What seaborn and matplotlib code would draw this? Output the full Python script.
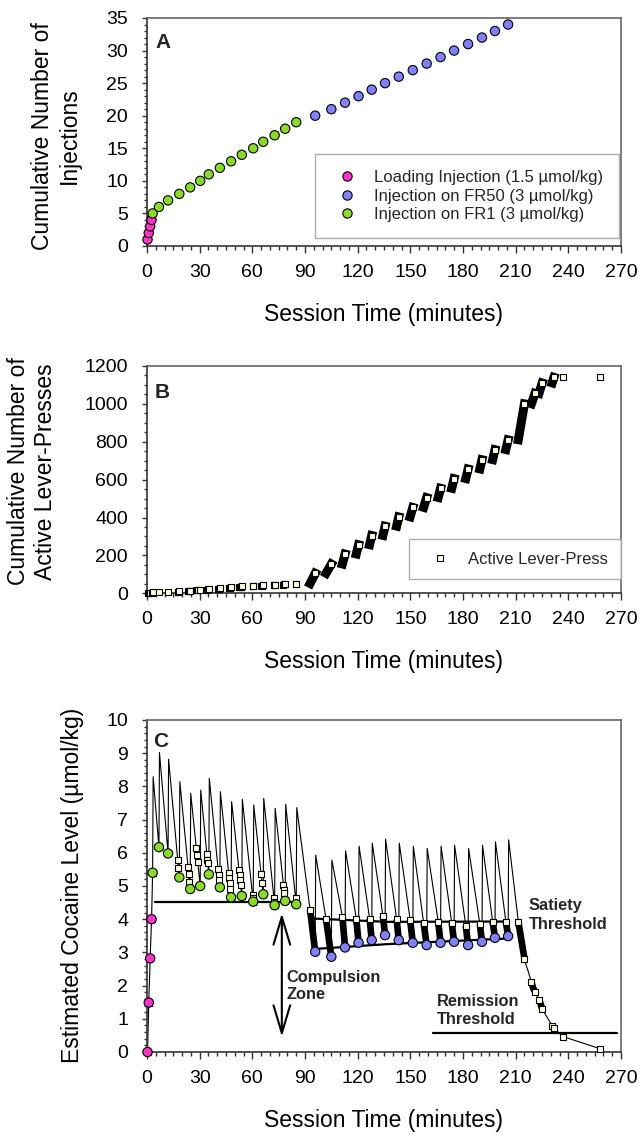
import numpy as np
import pandas as pd
import matplotlib
matplotlib.use("Agg")
import matplotlib.pyplot as plt
from matplotlib.lines import Line2D
from matplotlib.ticker import MultipleLocator
import seaborn as sns

# ---------------- data ----------------
# injection times (min)
loading_times = [0.3, 1.0, 1.8, 2.6]
fr1_times = [3.2, 6.8, 12.0, 18.4, 24.6, 30.3, 35.2, 41.5, 47.9, 54.0, 60.5, 66.2, 72.7, 78.7, 85.0]
fr50_times = [95.8, 105.0, 112.8, 120.5, 128.0, 135.6, 143.4, 151.4, 159.3, 167.2, 174.9, 182.9,
              190.8, 198.2, 205.7]
# cumulative injections (panel A)
loading_counts = [1, 2, 3, 4]
fr1_counts = [5, 6, 7, 8, 9, 10, 11, 12, 13, 14, 15, 16, 17, 18, 19]
fr50_counts = [20, 21, 22, 23, 24, 25, 26, 27, 28, 29, 30, 31, 32, 33, 34]

# estimated cocaine level at each injection (trough) and just after it (peak) (panel C)
loading_levels = [0.00, 1.49, 2.82, 4.00]
fr1_troughs = [5.40, 6.17, 5.98, 5.26, 4.91, 5.00, 5.35, 4.96, 4.66, 4.70, 4.53, 4.75, 4.42, 4.55, 4.45]
fr1_peaks = [8.29, 9.02, 8.82, 8.14, 7.79, 7.89, 8.24, 7.84, 7.54, 7.61, 7.44, 7.64, 7.34, 7.46, 7.36]
fr50_troughs = [3.02, 2.87, 3.15, 3.29, 3.37, 3.52, 3.37, 3.29, 3.22, 3.29, 3.32, 3.22, 3.32, 3.44, 3.49]
fr50_peaks = [5.93, 5.78, 6.06, 6.20, 6.29, 6.41, 6.29, 6.20, 6.13, 6.20, 6.23, 6.13, 6.23, 6.33, 6.39]
peak_delay = 0.3
# FR50 lever-press bursts: start time, level at start, cumulative presses at the end
fr50_burst_start = [92.9, 102.0, 111.3, 119.2, 126.8, 134.4, 142.2, 149.9, 157.6, 165.9, 173.6, 181.6,
                    189.6, 196.9, 204.4]
fr50_burst_start_level = [4.28, 4.00, 4.08, 4.02, 4.02, 4.10, 4.00, 3.98, 3.88, 3.92, 3.88, 3.80,
                          3.85, 3.92, 3.93]
fr50_press_counts = [105, 154, 207, 256, 305, 354, 403, 453, 505, 554, 605, 656, 705, 758, 810]
# decay of the cocaine level after the last injection
post_decay_times = [211.5, 215.3, 217.2, 220.0, 223.8, 225.1, 231.4, 236.7, 258.0]
post_decay_levels = [3.93, 2.72, 2.42, 1.92, 1.52, 1.29, 0.74, 0.47, 0.10]
# presses after the last injection
post_burst_start = [211.5, 219.0, 223.3, 230.8]
post_burst_end = [215.0, 221.0, 225.1, 231.8]
post_burst_counts = [1000, 1055, 1110, 1140]
post_single_times = [237.0, 258.0]
post_single_counts = [1142, 1144]
# individual presses during loading / FR1 (one cumulative count each)
fr1_press_times = [0.3, 1.0, 1.8, 2.6, 3.2, 6.8, 12.0, 17.5, 17.9, 18.4, 23.4, 23.8, 24.2, 24.6,
                   28.1, 28.5, 28.9, 30.3, 34.1, 34.4, 34.6, 35.2, 40.5, 40.8, 41.1, 41.5,
                   46.5, 46.8, 47.1, 47.4, 47.9, 52.4, 52.7, 53.0, 53.3, 54.0, 60.1, 60.3, 60.5,
                   65.0, 65.5, 66.2, 72.3, 72.5, 72.7, 77.7, 78.0, 78.2, 78.7, 84.6, 85.0]

# reference lines of panel C
fr1_threshold_t = [4.6, 86.2]
fr1_threshold_y = [4.53, 4.53]
satiety_t = [94.5, 137.0, 206.0]
satiety_y = [4.02, 3.92, 3.93]
lower_t = [94.5, 137.0, 206.0]
lower_y = [3.10, 3.25, 3.42]
remission_t = [162.8, 268.0]
remission_y = [0.58, 0.58]

labels_inj = ["Loading Injection (1.5 \u00b5mol/kg)", "Injection on FR50 (3 \u00b5mol/kg)",
              "Injection on FR1 (3 \u00b5mol/kg)"]
colors_inj = ["#FF33CC", "#8080FF", "#88DD22"]
square_face = "#FFFFE0"

# ---------------- style ----------------
sns.set_theme(style="ticks")
plt.rcParams["font.family"] = ["Liberation Sans", "DejaVu Sans"]
plt.rcParams.update({
    "axes.edgecolor": "#333333", "axes.linewidth": 1.2,
    "xtick.color": "#333333", "ytick.color": "#333333",
    "xtick.labelcolor": "black", "ytick.labelcolor": "black",
    "xtick.major.size": 4.8, "xtick.minor.size": 3.1,
    "ytick.major.size": 3.6, "ytick.minor.size": 2.4,
    "xtick.major.width": 1.0, "xtick.minor.width": 1.0,
    "ytick.major.width": 1.0, "ytick.minor.width": 1.0,
    "xtick.major.pad": 8, "ytick.major.pad": 10,
    "xtick.labelsize": 14, "ytick.labelsize": 14,
    "axes.labelsize": 16.5, "axes.labelcolor": "black",
})

W, H = 642, 1137
fig = plt.figure(figsize=(W / 100, H / 100), dpi=100)


def add_ax(left, top, right, bottom):
    return fig.add_axes([left / W, 1 - bottom / H, (right - left) / W, (bottom - top) / H])


axA = add_ax(147, 18, 621, 246)
axB = add_ax(147, 366, 621, 593.3)
axC = add_ax(147, 720, 621, 1052)

for ax in (axA, axB, axC):
    ax.set_xlim(0, 270)
    ax.set_xticks(np.arange(0, 271, 30))
    ax.xaxis.set_minor_locator(MultipleLocator(5))
    ax.set_xlabel("Session Time (minutes)", labelpad=16)
    for side in ("top", "right"):
        ax.spines[side].set_color("#666666")

# ---------------- panel A ----------------
dfA = pd.DataFrame({
    "time": loading_times + fr50_times + fr1_times,
    "count": loading_counts + fr50_counts + fr1_counts,
    "kind": [labels_inj[0]] * 4 + [labels_inj[1]] * len(fr50_times) + [labels_inj[2]] * len(fr1_times),
})
dfA = dfA.sort_values("time")
sns.scatterplot(data=dfA, x="time", y="count", hue="kind", hue_order=labels_inj, palette=colors_inj,
                s=45, edgecolor="black", linewidth=0.8, legend=False, ax=axA, zorder=3, clip_on=False)
axA.set_ylim(0, 35)
axA.set_yticks(np.arange(0, 36, 5))
axA.yaxis.set_minor_locator(MultipleLocator(1))
axA.set_ylabel("Cumulative Number of\nInjections")
axA.yaxis.set_label_coords(-0.1395, 0.483)
hA = [Line2D([], [], ls="", marker="o", ms=6.7, mfc=c, mec="black", mew=0.8) for c in colors_inj]
legA = axA.legend(hA, labels_inj, loc="upper left", bbox_to_anchor=(0.354, 0.4035), fontsize=12,
                  frameon=True, fancybox=False, edgecolor="#999999", borderpad=0.95, borderaxespad=0,
                  labelspacing=0.22, handlelength=2.0, handletextpad=0.6)
legA.get_frame().set_linewidth(1.0)
axA.text(0.017, 0.868, "A", transform=axA.transAxes, fontsize=15, fontweight="bold", va="baseline")

# ---------------- panel B ----------------
n_fr1 = len(fr1_press_times)
rows = []
prev = n_fr1
for i, (t0, t1, c) in enumerate(zip(fr50_burst_start, fr50_times, fr50_press_counts)):
    rows += [(i, t0, prev + 1), (i, t1, c)]
    prev = c
for j, (t0, t1, c) in enumerate(zip(post_burst_start, post_burst_end, post_burst_counts)):
    rows += [(100 + j, t0, prev + 1), (100 + j, t1, c)]
    prev = c
dfB_burst = pd.DataFrame(rows, columns=["burst", "time", "count"])
sns.lineplot(data=dfB_burst, x="time", y="count", units="burst", estimator=None, sort=False,
             color="black", lw=6.5, solid_capstyle="projecting", ax=axB, zorder=2)
dfB_sq = pd.DataFrame({
    "time": fr1_press_times + fr50_times + post_burst_end + post_single_times,
    "count": list(range(1, n_fr1 + 1)) + fr50_press_counts + post_burst_counts + post_single_counts,
})
sns.scatterplot(data=dfB_sq, x="time", y="count", marker="s", s=24, color=square_face,
                edgecolor="black", linewidth=0.8, ax=axB, zorder=3, clip_on=False)
axB.set_ylim(0, 1200)
axB.set_yticks(np.arange(0, 1201, 200))
axB.yaxis.set_minor_locator(MultipleLocator(50))
axB.set_ylabel("Cumulative Number of\nActive Lever-Presses")
axB.yaxis.set_label_coords(-0.19, 0.536)
hB = [Line2D([], [], ls="", marker="s", ms=5.0, mfc=square_face, mec="black", mew=0.8)]
legB = axB.legend(hB, ["Active Lever-Press"], loc="upper left", bbox_to_anchor=(0.553, 0.237),
                  fontsize=12, frameon=True, fancybox=False, edgecolor="#999999", borderpad=0.75,
                  borderaxespad=0, handlelength=2.24, handletextpad=0.57)
legB.get_frame().set_linewidth(1.0)
axB.text(0.017, 0.861, "B", transform=axB.transAxes, fontsize=15, fontweight="bold", va="baseline")

# ---------------- panel C ----------------
curve_t = list(loading_times)
curve_y = list(loading_levels)
for t, tr, pk in zip(fr1_times, fr1_troughs, fr1_peaks):
    curve_t += [t, t + peak_delay]
    curve_y += [tr, pk]
for bs, bl, t, tr, pk in zip(fr50_burst_start, fr50_burst_start_level, fr50_times, fr50_troughs, fr50_peaks):
    curve_t += [bs, t, t + peak_delay]
    curve_y += [bl, tr, pk]
curve_t += post_decay_times
curve_y += post_decay_levels
curve_t = np.array(curve_t)
curve_y = np.array(curve_y)


def level_at(times):
    return np.interp(times, curve_t, curve_y)


# reference lines
for lt, ly in ((fr1_threshold_t, fr1_threshold_y), (satiety_t, satiety_y), (lower_t, lower_y),
               (remission_t, remission_y)):
    sns.lineplot(x=lt, y=ly, estimator=None, sort=False, color="black", lw=1.6, ax=axC, zorder=1)

sns.lineplot(x=curve_t, y=curve_y, estimator=None, sort=False, color="black", lw=0.8, ax=axC, zorder=2)

seg_rows = []
for k, (t0, t1) in enumerate(list(zip(fr50_burst_start, fr50_times)) + list(zip(post_burst_start, post_burst_end))):
    ts = [t0] + [v for v in curve_t if t0 < v < t1] + [t1]
    for tt in ts:
        seg_rows.append((k, tt, float(level_at(tt))))
dfC_seg = pd.DataFrame(seg_rows, columns=["burst", "time", "level"])
sns.lineplot(data=dfC_seg, x="time", y="level", units="burst", estimator=None, sort=False,
             color="black", lw=4.8, solid_capstyle="butt", ax=axC, zorder=3)

sq_times = fr1_press_times + fr50_burst_start + post_burst_start + post_burst_end + post_single_times
dfC_sq = pd.DataFrame({"time": sq_times, "level": level_at(sq_times)})
sns.scatterplot(data=dfC_sq, x="time", y="level", marker="s", s=22, color=square_face,
                edgecolor="black", linewidth=0.8, ax=axC, zorder=4, clip_on=False)

dfC_inj = pd.DataFrame({
    "time": loading_times + fr1_times + fr50_times,
    "level": loading_levels + fr1_troughs + fr50_troughs,
    "kind": [labels_inj[0]] * 4 + [labels_inj[2]] * len(fr1_times) + [labels_inj[1]] * len(fr50_times),
})
sns.scatterplot(data=dfC_inj, x="time", y="level", hue="kind", hue_order=labels_inj, palette=colors_inj,
                s=45, edgecolor="black", linewidth=0.8, legend=False, ax=axC, zorder=5, clip_on=False)

axC.set_ylim(0, 10)
axC.set_yticks(np.arange(0, 11, 1))
axC.yaxis.set_minor_locator(MultipleLocator(0.2))
axC.set_ylabel("Estimated Cocaine Level (\u00b5mol/kg)")
axC.yaxis.set_label_coords(-0.133, 0.503)
axC.text(0.013, 0.919, "C", transform=axC.transAxes, fontsize=15, fontweight="bold", va="baseline")

axC.annotate("", xy=(76.8, 0.46), xytext=(76.8, 4.18),
             arrowprops=dict(arrowstyle="<->,head_length=1.0,head_width=0.3", lw=1.5, color="black",
                             mutation_scale=20, shrinkA=0, shrinkB=0))
bold = dict(fontsize=11.8, fontweight="bold", va="baseline", ha="left")
axC.text(79.6, 2.12, "Compulsion", **bold)
axC.text(79.6, 1.59, "Zone", **bold)
axC.text(217.6, 4.28, "Satiety", **bold)
axC.text(217.6, 3.70, "Threshold", **bold)
axC.text(165.0, 1.39, "Remission", **bold)
axC.text(165.0, 0.84, "Threshold", **bold)

fig.savefig("out.png", dpi=100)
